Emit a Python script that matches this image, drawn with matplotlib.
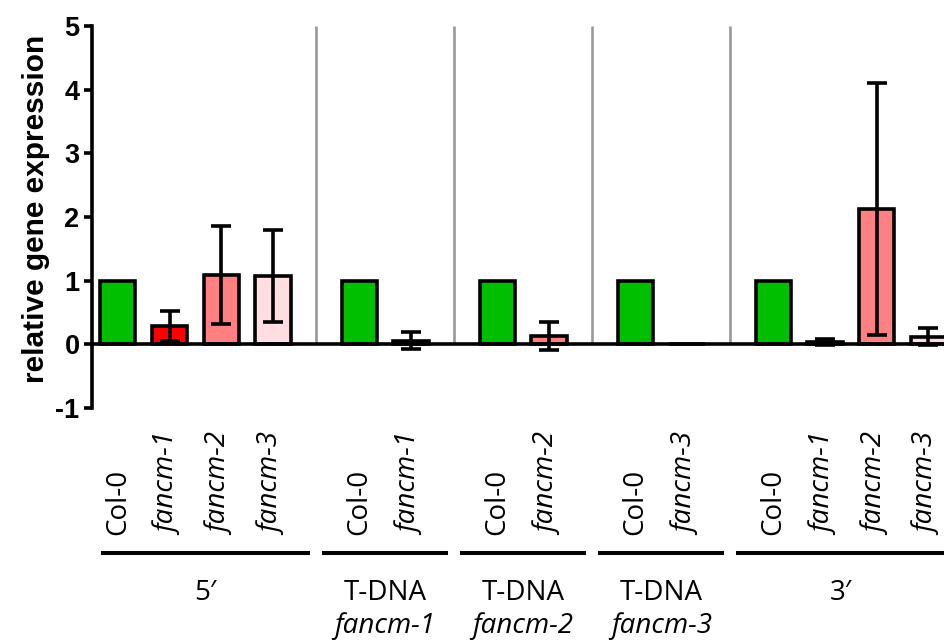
import numpy as np
import matplotlib
matplotlib.use("Agg")
import matplotlib.pyplot as plt

plt.rcParams["axes.unicode_minus"] = False

# --- data ---
group_titles = ["5\u2032", "T-DNA", "T-DNA", "T-DNA", "3\u2032"]
group_subtitles = ["", "fancm-1", "fancm-2", "fancm-3", ""]
group_genotypes = [
    ["Col-0", "fancm-1", "fancm-2", "fancm-3"],
    ["Col-0", "fancm-1"],
    ["Col-0", "fancm-2"],
    ["Col-0", "fancm-3"],
    ["Col-0", "fancm-1", "fancm-2", "fancm-3"],
]
values = [1.0, 0.29, 1.09, 1.07,
          1.0, 0.06,
          1.0, 0.13,
          1.0, 0.0,
          1.0, 0.04, 2.12, 0.12]
errors = [0.0, 0.23, 0.77, 0.72,
          0.0, 0.13,
          0.0, 0.22,
          0.0, 0.0,
          0.0, 0.05, 1.98, 0.13]
genotype_colors = {
    "Col-0": "#00BF00",
    "fancm-1": "#FF0000",
    "fancm-2": "#FF8080",
    "fancm-3": "#FFDEE2",
}

# --- layout ---
GROUP_GAP = 1.67
BAR_W = 0.68
LW = 2.6
label_font = ["Open Sans", "DejaVu Sans"]

positions, labels, group_spans = [], [], []
x = 0.0
for geno in group_genotypes:
    start = x
    for g in geno:
        positions.append(x)
        labels.append(g)
        x += 1.0
    group_spans.append((start, x - 1.0))
    x += GROUP_GAP - 1.0
positions = np.array(positions)

fig = plt.figure(figsize=(9.45, 6.42), dpi=100)
ax = fig.add_axes([92 / 945, 1 - 408 / 642, 853 / 945, 382 / 642])

colors = [genotype_colors[g] for g in labels]
ax.bar(positions, values, width=BAR_W, color=colors, edgecolor="black",
       linewidth=LW, zorder=3)

mask = np.array(errors) > 0
ax.errorbar(positions[mask], np.array(values)[mask], yerr=np.array(errors)[mask],
            fmt="none", ecolor="black", elinewidth=LW, capsize=7.5,
            capthick=LW, zorder=4)

# grey separators between groups
seps = [(group_spans[i][1] + group_spans[i + 1][0]) / 2 for i in range(len(group_spans) - 1)]
ax.vlines(seps, 0, 5, colors="#999999", linewidth=1.9, zorder=1)

ax.set_xlim(-0.5, 16.0)
ax.set_ylim(-1, 5)
ax.set_yticks(range(-1, 6))
ax.set_xticks([])

for side in ["top", "right"]:
    ax.spines[side].set_visible(False)
ax.spines["bottom"].set_position(("data", 0))
ax.spines["bottom"].set_linewidth(LW)
ax.spines["bottom"].set_zorder(5)
ax.spines["left"].set_linewidth(LW)
ax.tick_params(axis="y", length=6, width=LW, pad=3)
for t in ax.get_yticklabels():
    t.set_fontfamily("Liberation Sans")
    t.set_fontweight("bold")
    t.set_fontsize(19.5)

ax.set_ylabel("relative gene expression", fontsize=21.5, fontweight="bold",
              family="Liberation Sans")
ax.yaxis.set_label_coords(-0.049, 0.52)

# bar labels (rotated), bottom aligned
for xp, lab in zip(positions, labels):
    style = "normal" if lab == "Col-0" else "italic"
    ax.text(xp, -3.0, lab, rotation=90, ha="center", va="bottom",
            fontsize=20, style=style, family=label_font, clip_on=False)

# group underlines and titles
edges = [-0.5] + seps + [16.0]
for i, (title, sub) in enumerate(zip(group_titles, group_subtitles)):
    left = edges[i] + (0.17 if i == 0 else 0.12)
    right = edges[i + 1] - 0.12 if i < len(group_titles) - 1 else 16.0
    ax.plot([left, right], [-3.27, -3.27], color="black", linewidth=2.9,
            clip_on=False, solid_capstyle="butt")
    cx = (left + right) / 2
    ax.text(cx, -3.9, title, ha="center", va="center", fontsize=20,
            family=label_font, clip_on=False)
    if sub:
        ax.text(cx, -4.43, sub, ha="center", va="center", fontsize=20,
                style="italic", family=label_font, clip_on=False)

fig.savefig("out.png", dpi=100)
